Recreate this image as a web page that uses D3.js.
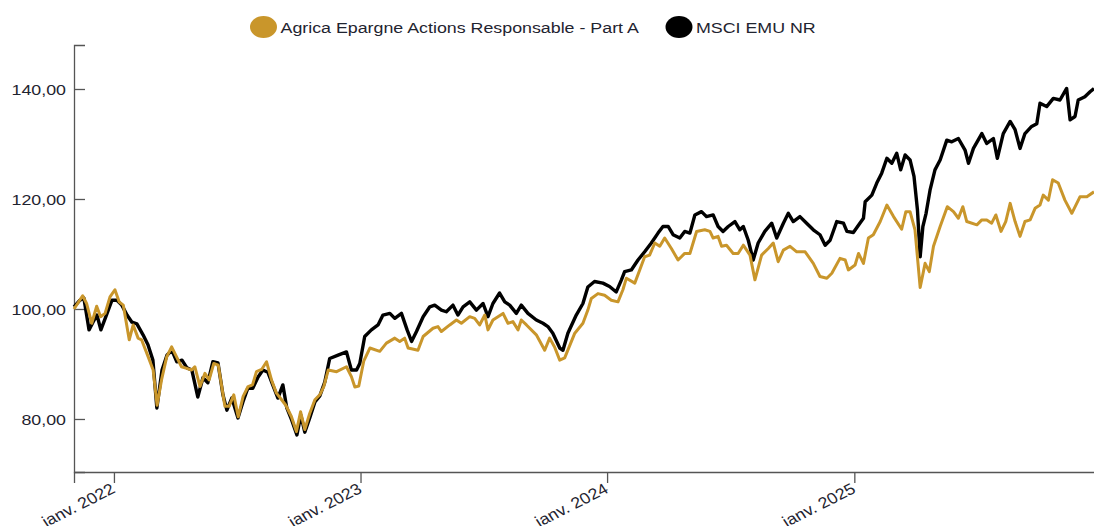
<!DOCTYPE html>
<html>
<head>
<meta charset="utf-8">
<script src="https://cdn.jsdelivr.net/npm/d3@7"></script>
<style>
  html, body { margin: 0; padding: 0; background: #fff; }
  #box { width: 1094px; height: 526px; }
  text { font-family: "Liberation Sans", Arial, sans-serif; fill: #1f2430; }
</style>
</head>
<body>
<div id="box"></div>
<script>
// series names
const seriesNames = ['Agrica Epargne Actions Responsable - Part A', 'MSCI EMU NR'];
const seriesColors = ['#c9962b', '#000000'];

// fund (weekly) - dates as decimal years
const fundDates = [2021.838, 2021.873, 2021.889, 2021.910, 2021.930, 2021.946, 2021.964, 2021.984, 2022.004, 2022.021,
  2022.038, 2022.062, 2022.078, 2022.098, 2022.112, 2022.139, 2022.159, 2022.175, 2022.193, 2022.214,
  2022.234, 2022.254, 2022.274, 2022.295, 2022.315, 2022.328, 2022.349, 2022.369, 2022.386, 2022.405,
  2022.423, 2022.450, 2022.467, 2022.486, 2022.504, 2022.524, 2022.544, 2022.562, 2022.578, 2022.599,
  2022.619, 2022.639, 2022.659, 2022.680, 2022.697, 2022.720, 2022.740, 2022.757, 2022.774, 2022.794,
  2022.815, 2022.835, 2022.851, 2022.869, 2022.903, 2022.943, 2022.963, 2022.977, 2022.993, 2023.013,
  2023.038, 2023.078, 2023.105, 2023.139, 2023.159, 2023.179, 2023.193, 2023.233, 2023.254, 2023.294,
  2023.314, 2023.328, 2023.362, 2023.389, 2023.409, 2023.443, 2023.463, 2023.483, 2023.504, 2023.517,
  2023.537, 2023.578, 2023.598, 2023.618, 2023.639, 2023.652, 2023.673, 2023.713, 2023.747, 2023.767,
  2023.787, 2023.808, 2023.828, 2023.869, 2023.902, 2023.922, 2023.936, 2023.963, 2023.990, 2024.017,
  2024.044, 2024.064, 2024.078, 2024.112, 2024.132, 2024.152, 2024.172, 2024.193, 2024.213, 2024.233,
  2024.260, 2024.287, 2024.314, 2024.335, 2024.362, 2024.395, 2024.416, 2024.429, 2024.449, 2024.463,
  2024.483, 2024.510, 2024.530, 2024.551, 2024.578, 2024.598, 2024.625, 2024.652, 2024.672, 2024.692,
  2024.713, 2024.740, 2024.767, 2024.801, 2024.834, 2024.861, 2024.889, 2024.909, 2024.942, 2024.963,
  2024.976, 2025.003, 2025.017, 2025.037, 2025.057, 2025.077, 2025.105, 2025.132, 2025.159, 2025.192,
  2025.209, 2025.226, 2025.246, 2025.267, 2025.287, 2025.304, 2025.321, 2025.348, 2025.377, 2025.402,
  2025.422, 2025.440, 2025.456, 2025.497, 2025.517, 2025.537, 2025.557, 2025.574, 2025.595, 2025.614,
  2025.632, 2025.652, 2025.672, 2025.692, 2025.713, 2025.733, 2025.753, 2025.766, 2025.787, 2025.804,
  2025.827, 2025.854, 2025.882, 2025.915, 2025.943, 2025.972];
const fundValues = [100.0, 102.4, 101.0, 97.4, 100.5, 98.6, 99.2, 102.2, 103.5, 101.3,
  100.7, 94.4, 97.1, 94.7, 94.4, 91.3, 88.9, 82.5, 87.1, 91.3,
  93.1, 91.3, 89.5, 89.2, 88.9, 89.5, 85.9, 88.3, 87.1, 90.1,
  89.8, 82.3, 82.3, 84.4, 80.4, 84.1, 85.9, 86.2, 88.6, 89.0,
  90.4, 87.1, 84.7, 83.5, 82.5, 80.4, 77.7, 81.3, 78.1, 81.0,
  83.5, 84.4, 85.9, 88.9, 88.6, 89.5, 87.7, 85.8, 86.0, 90.5,
  92.9, 92.3, 93.8, 94.7, 94.1, 94.7, 92.9, 92.5, 95.0, 96.5,
  96.8, 95.9, 97.1, 98.0, 97.4, 98.6, 98.3, 97.1, 98.9, 96.2,
  98.0, 99.2, 97.4, 97.7, 96.2, 98.0, 97.1, 95.3, 92.5, 94.7,
  93.1, 90.7, 91.1, 95.6, 97.4, 99.8, 101.9, 102.8, 102.5, 101.6,
  101.3, 103.5, 105.6, 104.7, 107.1, 109.5, 109.8, 112.0, 111.4, 112.9,
  111.0, 108.9, 110.1, 110.1, 114.1, 114.4, 114.1, 112.9, 113.2, 111.4,
  111.6, 110.1, 110.1, 111.6, 109.8, 105.3, 109.8, 111.0, 112.0, 108.6,
  110.7, 111.4, 110.4, 110.4, 108.3, 105.9, 105.6, 106.5, 109.2, 108.9,
  107.1, 108.0, 110.1, 108.3, 112.9, 113.5, 115.9, 118.9, 116.8, 114.5,
  117.7, 117.7, 114.4, 103.9, 108.3, 106.8, 111.4, 115.0, 118.6, 117.7,
  116.5, 118.6, 115.9, 115.3, 116.2, 116.2, 115.6, 117.1, 114.1, 115.9,
  119.2, 115.9, 113.2, 115.9, 116.2, 118.3, 118.9, 120.7, 119.8, 123.5,
  122.9, 119.8, 117.4, 120.4, 120.4, 121.3];

// benchmark index
const indexDates = [2021.838, 2021.862, 2021.878, 2021.899, 2021.915, 2021.931, 2021.947, 2021.968, 2021.992, 2022.012,
  2022.032, 2022.053, 2022.073, 2022.093, 2022.118, 2022.138, 2022.158, 2022.174, 2022.195, 2022.215,
  2022.235, 2022.255, 2022.276, 2022.296, 2022.316, 2022.340, 2022.361, 2022.381, 2022.401, 2022.422,
  2022.442, 2022.458, 2022.478, 2022.503, 2022.523, 2022.543, 2022.563, 2022.584, 2022.604, 2022.624,
  2022.644, 2022.665, 2022.685, 2022.701, 2022.721, 2022.742, 2022.758, 2022.774, 2022.794, 2022.815,
  2022.835, 2022.855, 2022.875, 2022.909, 2022.943, 2022.963, 2022.984, 2022.997, 2023.017, 2023.044,
  2023.071, 2023.091, 2023.119, 2023.139, 2023.166, 2023.189, 2023.207, 2023.227, 2023.254, 2023.281,
  2023.301, 2023.328, 2023.348, 2023.375, 2023.395, 2023.416, 2023.443, 2023.470, 2023.497, 2023.517,
  2023.537, 2023.564, 2023.585, 2023.605, 2023.632, 2023.652, 2023.679, 2023.713, 2023.740, 2023.760,
  2023.780, 2023.808, 2023.821, 2023.841, 2023.875, 2023.902, 2023.922, 2023.949, 2023.983, 2024.010,
  2024.037, 2024.058, 2024.071, 2024.098, 2024.125, 2024.152, 2024.179, 2024.206, 2024.226, 2024.247,
  2024.267, 2024.294, 2024.314, 2024.335, 2024.355, 2024.382, 2024.402, 2024.429, 2024.449, 2024.469,
  2024.490, 2024.517, 2024.537, 2024.551, 2024.571, 2024.591, 2024.611, 2024.638, 2024.666, 2024.686,
  2024.713, 2024.733, 2024.753, 2024.780, 2024.807, 2024.834, 2024.861, 2024.882, 2024.902, 2024.929,
  2024.956, 2024.970, 2024.996, 2025.021, 2025.037, 2025.044, 2025.071, 2025.091, 2025.111, 2025.132,
  2025.152, 2025.172, 2025.188, 2025.206, 2025.226, 2025.242, 2025.256, 2025.267, 2025.278, 2025.291,
  2025.307, 2025.327, 2025.348, 2025.375, 2025.395, 2025.422, 2025.449, 2025.463, 2025.483, 2025.517,
  2025.537, 2025.564, 2025.580, 2025.604, 2025.632, 2025.652, 2025.672, 2025.692, 2025.719, 2025.740,
  2025.753, 2025.780, 2025.807, 2025.834, 2025.861, 2025.875, 2025.895, 2025.908, 2025.935, 2025.956,
  2025.972];
const indexValues = [100.4, 101.6, 102.0, 96.2, 97.6, 98.9, 96.2, 98.7, 101.6, 101.6,
  100.7, 98.9, 97.6, 97.3, 95.3, 93.5, 90.7, 82.0, 88.9, 91.6,
  92.5, 90.4, 90.7, 89.3, 88.9, 84.0, 87.5, 86.6, 90.4, 90.2,
  84.4, 81.6, 83.8, 80.2, 83.1, 85.6, 85.6, 87.6, 88.9, 88.5,
  86.2, 83.8, 86.2, 82.0, 79.8, 77.1, 80.7, 77.6, 80.2, 83.1,
  84.2, 86.7, 91.0, 91.6, 92.2, 88.9, 88.9, 90.1, 95.0, 96.2,
  97.1, 98.9, 99.2, 98.3, 99.2, 96.2, 94.1, 95.9, 98.6, 100.4,
  100.7, 99.8, 99.5, 100.7, 98.9, 100.4, 101.3, 99.8, 101.0, 98.6,
  101.0, 102.9, 101.3, 100.7, 99.2, 100.7, 99.2, 98.0, 97.4, 96.8,
  95.6, 92.9, 92.5, 95.6, 98.9, 101.0, 104.0, 105.0, 104.7, 104.1,
  103.1, 105.3, 106.8, 107.1, 108.9, 110.4, 112.0, 113.8, 115.0, 115.0,
  113.5, 112.9, 114.1, 113.8, 117.1, 117.7, 116.8, 117.1, 115.0, 114.1,
  115.0, 115.9, 114.4, 115.0, 112.5, 108.9, 112.0, 114.1, 115.6, 112.9,
  115.6, 117.4, 115.9, 116.8, 115.6, 114.4, 113.5, 111.6, 112.5, 115.9,
  115.6, 114.1, 113.9, 115.5, 116.5, 119.5, 120.7, 122.9, 124.7, 127.4,
  126.5, 128.3, 125.3, 128.0, 127.1, 124.1, 118.0, 109.5, 115.0, 117.4,
  121.6, 125.3, 127.1, 130.7, 130.4, 131.0, 128.9, 126.5, 129.2, 131.9,
  130.1, 131.0, 127.4, 131.9, 134.1, 132.6, 129.2, 131.9, 133.2, 133.7,
  137.4, 136.8, 138.3, 138.0, 140.1, 134.4, 135.0, 138.0, 138.6, 139.5,
  140.1];

const yTicks = [80, 100, 120, 140];
const yDomain = [70.36, 148];
const xDomain = [2021.838, 2025.972];

// decimal year -> Date
function toDate(t) {
  const y = Math.floor(t);
  const s = new Date(y, 0, 1), e = new Date(y + 1, 0, 1);
  return new Date(+s + (t - y) * (e - s));
}

const fr = d3.timeFormatLocale({
  dateTime: '%A %e %B %Y à %X', date: '%d/%m/%Y', time: '%H:%M:%S', periods: ['AM', 'PM'],
  days: ['dimanche', 'lundi', 'mardi', 'mercredi', 'jeudi', 'vendredi', 'samedi'],
  shortDays: ['dim.', 'lun.', 'mar.', 'mer.', 'jeu.', 'ven.', 'sam.'],
  months: ['janvier', 'février', 'mars', 'avril', 'mai', 'juin', 'juillet', 'août', 'septembre', 'octobre', 'novembre', 'décembre'],
  shortMonths: ['janv.', 'févr.', 'mars', 'avr.', 'mai', 'juin', 'juil.', 'août', 'sept.', 'oct.', 'nov.', 'déc.']
});
const numFr = d3.formatLocale({ decimal: ',', thousands: ' ', grouping: [3], currency: ['', ' €'] });

const width = 1094, height = 526;
const padLeft = 74, padTop = 45, padBottom = 54;
const sx = 1.15; // text looks stretched horizontally in the reference

const svg = d3.select('#box').append('svg')
  .attr('width', width)
  .attr('height', height);

// plot keeps going a little past the right edge, like the reference
const x = d3.scaleTime().domain(xDomain.map(toDate)).range([padLeft, width]);
const xAxisScale = x.copy().range([padLeft, width]).domain([x.domain()[0], x.invert(width + 4)]).range([padLeft, width + 4]);
const y = d3.scaleLinear().domain(yDomain).range([height - padBottom, padTop]);

// x axis
const xAxis = svg.append('g')
  .attr('transform', `translate(0, ${height - padBottom})`)
  .call(d3.axisBottom(xAxisScale).ticks(d3.timeYear.every(1)).tickFormat(fr.format('%b %Y')).tickSizeInner(11).tickSizeOuter(11));
xAxis.select('.domain').attr('stroke', '#555').attr('stroke-width', 1.3);
xAxis.selectAll('.tick line').attr('stroke', '#555').attr('stroke-width', 1.3);
xAxis.selectAll('.tick text')
  .attr('x', 0).attr('y', 0).attr('dy', 0)
  .attr('text-anchor', 'end')
  .attr('transform', `translate(2, 20) scale(${sx}, 1) rotate(-30)`)
  .style('font-size', '15.5px')
  .style('font-family', '"Liberation Sans", Arial, sans-serif')
  .attr('fill', '#1f2430');

// y axis
const yAxis = svg.append('g')
  .attr('transform', `translate(${padLeft}, 0)`)
  .call(d3.axisLeft(y).tickValues(yTicks).tickFormat(numFr.format('.2f')).tickSizeInner(-11).tickSizeOuter(-11));
yAxis.select('.domain').attr('stroke', '#555').attr('stroke-width', 1.3);
yAxis.selectAll('.tick line').attr('stroke', '#555').attr('stroke-width', 1.3);
yAxis.selectAll('.tick text')
  .attr('x', 0).attr('dy', '0.35em')
  .attr('text-anchor', 'end')
  .attr('transform', `translate(-8, 0) scale(${sx}, 1)`)
  .style('font-size', '15.5px')
  .style('font-family', '"Liberation Sans", Arial, sans-serif')
  .attr('fill', '#1f2430');

// lines
const line = d3.line()
  .x(d => x(toDate(d[0])))
  .y(d => y(d[1]));

const indexData = d3.zip(indexDates, indexValues);
const fundData = d3.zip(fundDates, fundValues);

svg.append('path')
  .datum(indexData)
  .attr('fill', 'none')
  .attr('stroke', seriesColors[1])
  .attr('stroke-width', 3.4)
  .attr('stroke-linejoin', 'round')
  .attr('d', line);

svg.append('path')
  .datum(fundData)
  .attr('fill', 'none')
  .attr('stroke', seriesColors[0])
  .attr('stroke-width', 3)
  .attr('stroke-linejoin', 'round')
  .attr('d', line);

// legend
const legendX = [263.5, 679];
const legend = svg.selectAll('.legend').data(seriesNames)
  .join('g')
  .attr('class', 'legend')
  .attr('transform', (d, i) => `translate(${legendX[i]}, 27)`);
legend.append('ellipse')
  .attr('rx', 13.5).attr('ry', 11)
  .attr('fill', (d, i) => seriesColors[i]);
legend.append('text')
  .attr('transform', `translate(17, 6) scale(${sx}, 1)`)
  .style('font-size', '15.5px')
  .text(d => d);
</script>
</body>
</html>
